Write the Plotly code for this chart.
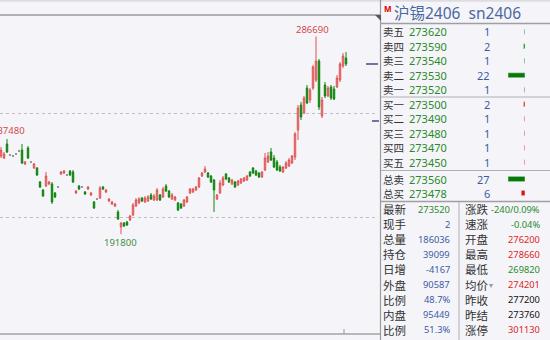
import plotly.graph_objects as go

W, H = 550, 340

# ---------------- candlestick data (price per bar) ----------------
opens = [229360, 228400, 235120, 229840, 229360, 230320, 231760, 232240, 225520, 233200,
         226480, 223600, 223600, 216880, 213040, 214960, 215920, 215920, 211600, 214480,
         220720, 221200, 220240, 222160, 221680, 211600, 214960, 214480, 212080, 213520,
         210640, 207280, 208720, 209200, 214480, 212080, 207760, 206320, 205360, 202480,
         195280, 197200, 197680, 198640, 201040, 205360, 206800, 209200, 207280, 207760,
         210640, 208240, 208240, 210640, 209680, 214960, 212560, 208720, 208240, 206800,
         206320, 205360, 207280, 211600, 212080, 213040, 214480, 219760, 221680, 221200,
         219760, 217840, 208720, 211600, 215440, 220720, 218800, 215920, 216880, 215440,
         216400, 217360, 217840, 221680, 223600, 222160, 221200, 219280, 222640, 226480,
         231280, 228400, 226480, 224080, 221680, 223600, 224560, 226000, 228880, 241840,
         253840, 250000, 262000, 256240, 262000, 265840, 274960, 248560, 263440, 258160,
         262480, 261520, 262480, 265840, 272560, 276400]
closes = [232240, 230320, 231280, 229840, 229360, 230320, 231760, 226000, 226480, 228400,
          226480, 225520, 220240, 214480, 210160, 219760, 216880, 207280, 209680, 214480,
          221680, 222160, 220240, 220240, 216880, 212560, 213520, 214480, 211120, 214480,
          211600, 204400, 208720, 214000, 213520, 213040, 208720, 207280, 206320, 199120,
          197200, 195760, 196240, 200560, 205840, 208240, 208720, 207760, 209200, 209680,
          208720, 210160, 213040, 208240, 213520, 212560, 209680, 210640, 209680, 203440,
          204400, 208240, 209680, 213520, 213520, 214480, 218800, 221200, 223120, 219280,
          216880, 213040, 210640, 216400, 218800, 218320, 216880, 217840, 214480, 217360,
          218320, 218800, 219760, 219760, 221200, 220240, 219280, 221680, 228400, 229360,
          227440, 224080, 222640, 222160, 224080, 226000, 227440, 229360, 239920, 252400,
          248080, 257200, 254800, 261040, 272080, 274960, 252880, 256240, 258160, 262000,
          257200, 256720, 266800, 273520, 277360, 273520]
highs = [233680, 231280, 237480, 230320, 229840, 230800, 232240, 235120, 226960, 234160,
         226960, 226000, 224080, 217360, 213520, 221680, 217360, 216880, 212080, 214960,
         222160, 222640, 220720, 222640, 222640, 213040, 215440, 214960, 212560, 214960,
         212080, 207760, 209200, 214960, 214960, 213520, 209200, 207760, 206800, 203440,
         197680, 197680, 198160, 201040, 206800, 209200, 209680, 209680, 210160, 210640,
         211600, 211120, 214000, 211120, 214480, 215920, 213040, 211600, 210160, 207280,
         206800, 208720, 210160, 214000, 214000, 214960, 219280, 221680, 224560, 221680,
         220240, 218320, 211120, 217840, 219760, 221200, 219280, 218320, 217360, 217840,
         218800, 219280, 220240, 222160, 224080, 222640, 221680, 222160, 230800, 231280,
         233200, 229840, 227440, 225040, 224560, 226960, 228400, 229840, 240880, 253840,
         255280, 258160, 263440, 262000, 273040, 286690, 275920, 257680, 264880, 262960,
         263440, 262960, 268240, 274480, 278800, 279280]
lows = [228400, 227920, 230800, 229360, 228880, 229840, 231280, 225520, 225040, 227920,
        226000, 223120, 219760, 214000, 209680, 214480, 215440, 206320, 209200, 214000,
        220240, 220720, 219760, 219760, 216400, 211120, 213040, 214000, 210640, 213040,
        210160, 203920, 208240, 208720, 213040, 211600, 207280, 205840, 204880, 198640,
        191800, 195280, 195760, 198160, 200560, 204880, 206320, 207280, 206800, 207280,
        208240, 207760, 207760, 207760, 209200, 212080, 209200, 208240, 207760, 202960,
        203920, 204880, 206800, 211120, 211600, 212560, 214000, 219280, 221200, 218800,
        216400, 202480, 208240, 211120, 214960, 217840, 216400, 215440, 214000, 214960,
        215920, 216880, 217360, 219280, 220720, 219760, 218800, 218800, 222160, 226000,
        226960, 223600, 222160, 221680, 221200, 223120, 224080, 225520, 227440, 237040,
        246640, 249520, 254320, 254800, 261040, 264880, 251440, 247600, 257200, 257680,
        256240, 256240, 262000, 264880, 271600, 272560]

grid_levels = [200000, 250000]
last_price = 273520
avg_marker = 246160

# ---------------- order book data ----------------
book_labels = ['卖五', '卖四', '卖三', '卖二', '卖一', '买一', '买二', '买三', '买四', '买五']
book_prices = [273620, 273590, 273540, 273530, 273520, 273500, 273490, 273480, 273470, 273450]
book_vols = [1, 2, 1, 22, 1, 2, 1, 1, 1, 1]
total_labels = ['总卖', '总买']
total_prices = [273560, 273478]
total_vols = [27, 6]

stat_left_labels = ['最新', '现手', '总量', '持仓', '日增', '外盘', '比例', '内盘', '比例']
stat_left_values = ['273520', '2', '186036', '39099', '-4167', '90587', '48.7%', '95449', '51.3%']
stat_right_labels = ['涨跌', '速涨', '开盘', '最高', '最低', '均价', '昨收', '昨结', '涨停']
stat_right_values = ['-240/0.09%', '-0.04%', '276200', '278660', '269820', '274201', '277200', '273760', '301130']

GREEN = '#2a8a2a'
BLUE = '#3b5ba5'
RED = '#e02424'
BLACK = '#111111'
LABEL = '#333333'
left_colors = [GREEN, BLUE, BLUE, BLUE, BLUE, BLUE, BLUE, BLUE, BLUE]
right_colors = [GREEN, GREEN, RED, RED, GREEN, RED, BLACK, BLACK, RED]

CJK = 'Noto Sans CJK SC'
NUM = 'Noto Sans, Noto Sans CJK SC'


def px(x):
    return x / W


def py(y):
    return 1 - y / H


idx = list(range(len(opens)))
main = [i for i in idx if opens[i] != closes[i]]
doji = [i for i in idx if opens[i] == closes[i]]

fig = go.Figure()
fig.add_trace(go.Candlestick(
    x=main, open=[opens[i] for i in main], high=[highs[i] for i in main],
    low=[lows[i] for i in main], close=[closes[i] for i in main],
    increasing=dict(line=dict(color='#e05252', width=1), fillcolor='#eb9c9c'),
    decreasing=dict(line=dict(color='#0f850f', width=1), fillcolor='#0f850f'),
    whiskerwidth=0, hoverinfo='skip', showlegend=False))
fig.add_trace(go.Candlestick(
    x=doji, open=[opens[i] for i in doji], high=[highs[i] for i in doji],
    low=[lows[i] for i in doji], close=[closes[i] for i in doji],
    increasing=dict(line=dict(color='#8a8a8a', width=1), fillcolor='#8a8a8a'),
    decreasing=dict(line=dict(color='#8a8a8a', width=1), fillcolor='#8a8a8a'),
    whiskerwidth=0, hoverinfo='skip', showlegend=False))

# order book bars
book_colors = ['#067a06'] * 5 + ['#e01010'] * 5
fig.add_trace(go.Bar(y=book_labels, x=book_vols, orientation='h', marker_color=book_colors,
                     width=0.34, xaxis='x2', yaxis='y2', hoverinfo='skip', showlegend=False))
fig.add_trace(go.Bar(y=total_labels, x=total_vols, orientation='h',
                     marker_color=['#067a06', '#e01010'],
                     width=0.38, xaxis='x3', yaxis='y3', hoverinfo='skip', showlegend=False))

ann = []
# extreme labels
ann.append(dict(x=105, y=max(highs), xref='x', yref='y', text=str(max(highs)), showarrow=False,
                yanchor='bottom', xshift=-4, yshift=-1, font=dict(family=NUM, size=9.5, color='#d24a4a')))
ann.append(dict(x=40, y=min(lows), xref='x', yref='y', text=str(min(lows)), showarrow=False,
                yanchor='top', xshift=-1, yshift=0, font=dict(family=NUM, size=9.5, color='#3f8f3f')))
ann.append(dict(x=2, y=highs[2], xref='x', yref='y', text=str(highs[2]), showarrow=False,
                yanchor='bottom', xanchor='right', xshift=20, yshift=0,
                font=dict(family=NUM, size=9.5, color='#d24a4a')))

# header
ann.append(dict(x=px(382), y=py(8), xref='paper', yref='paper', text='<b>M</b>', showarrow=False,
                xanchor='left', yanchor='middle', font=dict(family=NUM, size=8, color='#e00000')))
ann.append(dict(x=px(392), y=py(13), xref='paper', yref='paper', text='沪锡2406  sn2406', showarrow=False,
                xanchor='left', yanchor='middle', font=dict(family=NUM, size=15.5, color='#4b67a3')))

BSIZE = 10.5
LSIZE = 11.5
# order book rows
for k in range(len(book_labels)):
    ann.append(dict(x=px(381), y=k, xref='paper', yref='y2', text=book_labels[k], showarrow=False,
                    xanchor='left', yanchor='middle', font=dict(family=CJK, size=BSIZE, color=LABEL)))
    ann.append(dict(x=px(407), y=k, xref='paper', yref='y2', text=str(book_prices[k]), showarrow=False,
                    xanchor='left', yanchor='middle', font=dict(family=NUM, size=11, color=GREEN)))
    ann.append(dict(x=px(492), y=k, xref='paper', yref='y2', text=str(book_vols[k]), showarrow=False,
                    xanchor='right', yanchor='middle', font=dict(family=NUM, size=11, color=BLUE)))
for k in range(len(total_labels)):
    ann.append(dict(x=px(381), y=k, xref='paper', yref='y3', text=total_labels[k], showarrow=False,
                    xanchor='left', yanchor='middle', font=dict(family=CJK, size=BSIZE, color=LABEL)))
    ann.append(dict(x=px(407), y=k, xref='paper', yref='y3', text=str(total_prices[k]), showarrow=False,
                    xanchor='left', yanchor='middle', font=dict(family=NUM, size=11, color=GREEN)))
    ann.append(dict(x=px(492), y=k, xref='paper', yref='y3', text=str(total_vols[k]), showarrow=False,
                    xanchor='right', yanchor='middle', font=dict(family=NUM, size=11, color=BLUE)))

# statistics block
for k in range(len(stat_left_labels)):
    yy = py(209 + 15.1 * k)
    ann.append(dict(x=px(381), y=yy, xref='paper', yref='paper', text=stat_left_labels[k], showarrow=False,
                    xanchor='left', yanchor='middle', font=dict(family=CJK, size=LSIZE, color=LABEL)))
    ann.append(dict(x=px(452), y=yy, xref='paper', yref='paper', text=stat_left_values[k], showarrow=False,
                    xanchor='right', yanchor='middle', font=dict(family=NUM, size=9.3, color=left_colors[k])))
    ann.append(dict(x=px(463), y=yy, xref='paper', yref='paper', text=stat_right_labels[k], showarrow=False,
                    xanchor='left', yanchor='middle', font=dict(family=CJK, size=LSIZE, color=LABEL)))
    ann.append(dict(x=px(542), y=yy, xref='paper', yref='paper', text=stat_right_values[k], showarrow=False,
                    xanchor='right', yanchor='middle', font=dict(family=NUM, size=9.3, color=right_colors[k])))
ann.append(dict(x=px(487), y=py(209 + 15.1 * 5), xref='paper', yref='paper', text='▾', showarrow=False,
                xanchor='left', yanchor='middle', font=dict(family=NUM, size=8, color='#999999')))

shapes = []


def hline(y, x0, x1, color='#a4a4a8', width=1):
    shapes.append(dict(type='line', xref='paper', yref='paper', x0=px(x0), x1=px(x1),
                       y0=py(y), y1=py(y), line=dict(color=color, width=width)))


def vline(x, y0, y1, color='#a4a4a8', width=1):
    shapes.append(dict(type='line', xref='paper', yref='paper', x0=px(x), x1=px(x),
                       y0=py(y0), y1=py(y1), line=dict(color=color, width=width)))


hline(0.8, 0, 550, '#dcdce2', 2)
hline(15, 0, 381, '#b0b0b4', 2)
hline(334, 0, 381, '#b8b8bc', 2)
vline(344, 329, 334, '#9a9a9a', 1)
vline(380.5, 0, 340, '#9a9a9e', 1.2)
hline(23.5, 381, 550, '#a0a0a4', 1.5)
hline(97, 381, 550, '#b0b0b4', 1)
hline(170.5, 381, 550, '#b0b0b4', 1)
hline(201.5, 381, 550, '#a0a0a4', 1.5)
vline(459, 202, 340, '#b0b0b4', 1)
# corner triangle
shapes.append(dict(type='path', xref='paper', yref='paper',
                   path=f'M {px(375)} {py(15)} L {px(381)} {py(15)} L {px(381)} {py(21)} Z',
                   fillcolor='#5a5a5e', line=dict(width=0)))
# price markers on the right edge
shapes.append(dict(type='line', xref='paper', yref='y', x0=px(366), x1=px(378),
                   y0=last_price, y1=last_price, line=dict(color='#3e4a86', width=1.5)))
shapes.append(dict(type='line', xref='paper', yref='y', x0=px(372), x1=px(379),
                   y0=avg_marker, y1=avg_marker, line=dict(color='#3e4a86', width=1.5)))

BG = '#f5f5f9'
fig.update_layout(
    width=W, height=H, autosize=False,
    margin=dict(l=0, r=0, t=0, b=0),
    paper_bgcolor=BG, plot_bgcolor=BG,
    showlegend=False, bargap=0,
    xaxis=dict(domain=[0, px(377)], range=[-1 / 3, 125.333], visible=False,
               rangeslider=dict(visible=False), fixedrange=True),
    yaxis=dict(domain=[py(334), py(16)], range=[143920, 296560], tickvals=grid_levels,
               showticklabels=False, showgrid=True, gridcolor='#bdbdc4', griddash='dot',
               gridwidth=1, zeroline=False, showline=False, ticks='', fixedrange=True),
    xaxis2=dict(domain=[px(508), px(525)], range=[max(book_vols), 0], visible=False,
                anchor='y2', fixedrange=True),
    yaxis2=dict(domain=[py(169.5), py(24.5)], type='category', categoryorder='array',
                categoryarray=book_labels, range=[len(book_labels) - 0.5, -0.5],
                visible=False, anchor='x2', fixedrange=True),
    xaxis3=dict(domain=[px(508), px(525)], range=[max(total_vols), 0], visible=False,
                anchor='y3', fixedrange=True),
    yaxis3=dict(domain=[py(200), py(172)], type='category', categoryorder='array',
                categoryarray=total_labels, range=[len(total_labels) - 0.5, -0.5],
                visible=False, anchor='x3', fixedrange=True),
    annotations=ann, shapes=shapes,
)

fig.write_html('out.html', config=dict(displayModeBar=False, staticPlot=True))
